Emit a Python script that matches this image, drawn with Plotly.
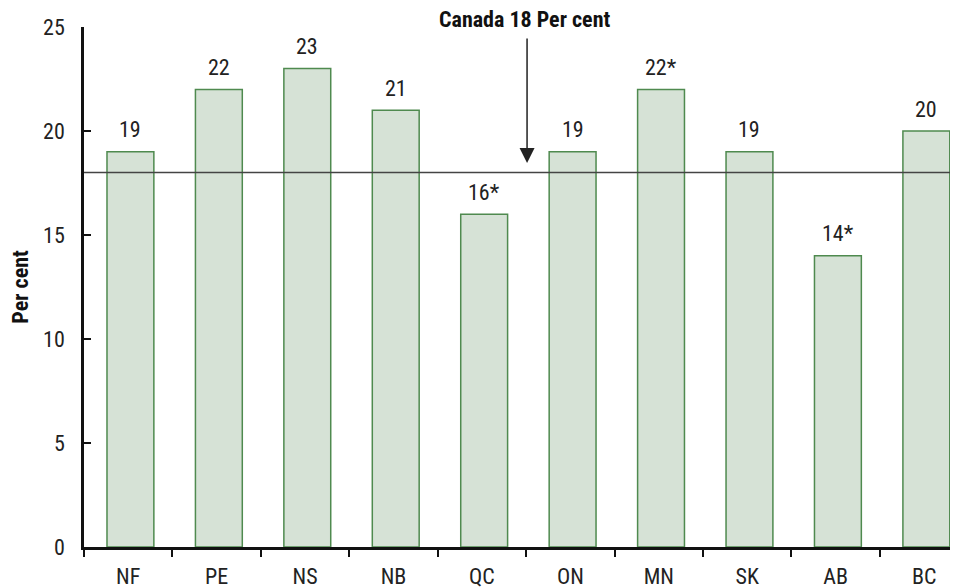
import plotly.graph_objects as go

provinces = ["NF", "PE", "NS", "NB", "QC", "ON", "MN", "SK", "AB", "BC"]
values = [19, 22, 23, 21, 16, 19, 22, 19, 14, 20]
value_labels = ["19", "22", "23", "21", "16*", "19", "22*", "19", "14*", "20"]
canada_value = 18
canada_label = "Canada 18 Per cent"
y_ticks = [0, 5, 10, 15, 20, 25]

FONT = "Liberation Sans Narrow, Arial Narrow, Roboto Condensed, sans-serif"

fig = go.Figure()
fig.add_trace(go.Bar(
    x=provinces, y=values, width=0.53, offset=-0.24,
    marker=dict(color="#d6e2d6", line=dict(color="#4f8a4f", width=1.5)),
    hoverinfo="skip",
))

annotations = []
for i, (v, lab) in enumerate(zip(values, value_labels)):
    annotations.append(dict(x=i + 0.025, y=v, text=lab, showarrow=False, xref="x", yref="y",
                            yanchor="middle", yshift=22,
                            font=dict(family=FONT, size=22, color="#222222")))

# arrow pointing at the Canada line
annotations.append(dict(x=4.51, y=canada_value + 0.46, ax=4.51, ay=24.52,
                        xref="x", yref="y", axref="x", ayref="y",
                        showarrow=True, arrowhead=2, arrowsize=2, arrowwidth=1.5,
                        arrowcolor="#222222", text=""))
annotations.append(dict(x=4.48, y=1.014, xref="x", yref="paper", text="<b>" + canada_label + "</b>",
                        showarrow=False, yanchor="middle",
                        font=dict(family=FONT, size=22, color="#111111")))

shapes = [
    dict(type="line", xref="paper", yref="y", x0=0, x1=1, y0=canada_value, y1=canada_value,
         line=dict(color="#444444", width=1.5), layer="above"),
]

fig.update_layout(
    width=950, height=580,
    margin=dict(l=76, r=0, t=19, b=41),
    paper_bgcolor="white", plot_bgcolor="white",
    showlegend=False,
    font=dict(family=FONT, size=22, color="#222222"),
    annotations=annotations,
    shapes=shapes,
)
fig.update_xaxes(
    type="category", range=[-0.5, 9.383], tickson="boundaries",
    ticks="outside", ticklen=7, tickwidth=1.5, tickcolor="#111111",
    showline=True, linewidth=2.5, linecolor="#111111", showgrid=False,
    ticklabelstandoff=8,
    tickfont=dict(family=FONT, size=22, color="#222222"),
)
fig.update_yaxes(
    range=[0, 25], tickvals=y_ticks, ticks="inside", ticklen=7, tickwidth=1.5,
    tickcolor="#111111", showline=True, linewidth=2.5, linecolor="#111111",
    showgrid=False, zeroline=False, ticklabelstandoff=12,
    tickfont=dict(family=FONT, size=22, color="#222222"),
    title=dict(text="<b>Per cent</b>", font=dict(family=FONT, size=22, color="#111111"), standoff=14),
)

fig.write_html("out.html")
